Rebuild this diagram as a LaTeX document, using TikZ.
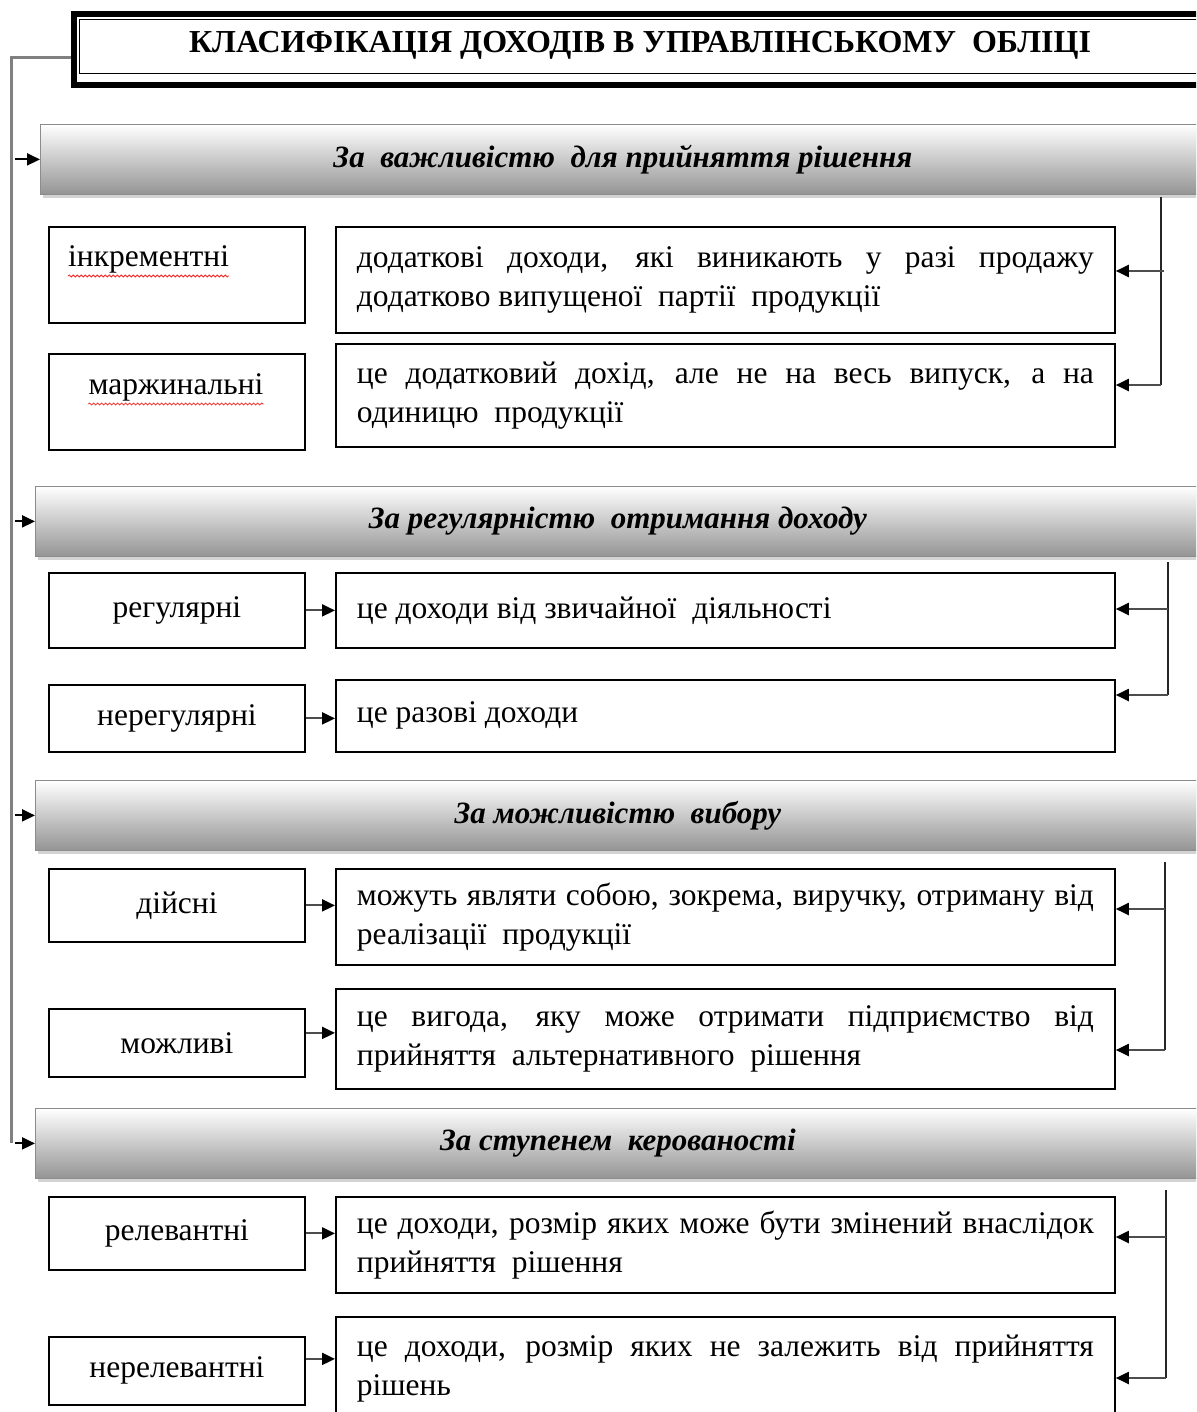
\documentclass[tikz,border=0pt]{standalone}
\usepackage{fontspec}
\setmainfont{Liberation Serif}
\usetikzlibrary{arrows.meta,shadows,decorations.pathmorphing,calc}
\newcommand{\bodyf}{\fontsize{31.5}{38.8}\selectfont}
\newcommand{\fl}[1]{{\spaceskip=0pt\xspaceskip=0pt\makebox[737pt][s]{#1}}}
\begin{document}
\begin{tikzpicture}[x=1pt,y=-1pt,
  lbox/.style={draw=black, line width=1.8pt, minimum width=256pt, inner sep=0pt, font=\bodyf},
  rbox/.style={draw=black, line width=1.8pt, text width=737pt, inner xsep=21pt, inner ysep=0pt, align=justify, font=\bodyf, anchor=north west},
  hbar/.style={draw=black!45, line width=0.8pt, top color=white, bottom color=black!42, minimum width=1165pt, minimum height=70pt, anchor=north west, font=\fontsize{31}{36}\selectfont\bfseries\itshape, drop shadow={shadow xshift=3pt, shadow yshift=-4pt, opacity=0.35, fill=black!50}},
  gline/.style={draw=black!50, line width=3pt},
  arr/.style={draw=black!70, line width=2pt, -{Triangle[length=13pt,width=12pt,color=black]}},
  cline/.style={draw=black!85, line width=1.6pt},
  squig/.style={draw=red!85, line width=0.8pt, decorate, decoration={snake, amplitude=1pt, segment length=4pt}}
]
\useasboundingbox (0,0) rectangle (1196,1412);
\clip (0,0) rectangle (1196,1412);

% title
\node[draw=black, line width=6pt, minimum width=1150pt, minimum height=71pt, anchor=north west, inner sep=0pt] (t) at (71,11) {};
\node[draw=black, line width=1pt, minimum width=1140pt, minimum height=54pt, anchor=north west, inner sep=0pt] (ti) at (79,19) {};
\node[font=\fontsize{32}{36}\selectfont\bfseries, inner sep=0pt] (tt) at (640,45) {КЛАСИФІКАЦІЯ ДОХОДІВ В УПРАВЛІНСЬКОМУ\ \ ОБЛІЦІ};

% headers
\node[hbar] (h1) at (40,124) {За\ \ важливістю\ \ для прийняття рішення};
\node[hbar] (h2) at (35,486) {За регулярністю\ \ отримання доходу};
\node[hbar] (h3) at (35,780) {За можливістю\ \ вибору};
\node[hbar] (h4) at (35,1108) {За ступенем\ \ керованості};

% left boxes
\node[lbox, minimum height=96pt, anchor=north west] (a1) at (48,226) {};
\node[font=\bodyf, inner sep=0pt, anchor=west] (a1t) at (68,259) {інкрементні};
\node[lbox, minimum height=96pt, anchor=north west] (a2) at (48,353) {};
\node[font=\bodyf, inner sep=0pt] (a2t) at (176,387) {маржинальні};
\node[lbox, minimum height=75pt, anchor=north west] (a3) at (48,572) {регулярні};
\node[lbox, minimum height=67pt, anchor=north west] (a4) at (48,684) {нерегулярні};
\node[lbox, minimum height=73pt, anchor=north west] (a5) at (48,868) {дійсні};
\node[lbox, minimum height=68pt, anchor=north west] (a6) at (48,1008) {можливі};
\node[lbox, minimum height=73pt, anchor=north west] (a7) at (48,1196) {релевантні};
\node[lbox, minimum height=68pt, anchor=north west] (a8) at (48,1336) {нерелевантні};

\draw[squig] ([yshift=-3pt]a1t.south west) -- ([yshift=-3pt]a1t.south east);
\draw[squig] ([yshift=-3pt]a2t.south west) -- ([yshift=-3pt]a2t.south east);

% right boxes
\node[rbox, minimum height=106pt] (b1) at (335,226) {\fl{додаткові доходи, які виникають у разі продажу}\\додатково випущеної\ \ партії\ \ продукції};
\node[rbox, minimum height=103pt] (b2) at (335,343) {\fl{це додатковий дохід, але не на весь випуск, а на}\\одиницю\ \ продукції};
\node[rbox, minimum height=75pt] (b3) at (335,572) {це доходи від звичайної\ \ діяльності};
\node[rbox, minimum height=72pt] (b4) at (335,679) {це разові доходи};
\node[rbox, minimum height=96pt] (b5) at (335,868) {\fl{можуть являти собою, зокрема, виручку, отриману від}\\реалізації\ \ продукції};
\node[rbox, minimum height=100pt] (b6) at (335,988) {\fl{це вигода, яку може отримати підприємство від}\\прийняття\ \ альтернативного\ \ рішення};
\node[rbox, minimum height=96pt] (b7) at (335,1196) {\fl{це доходи, розмір яких може бути змінений внаслідок}\\прийняття\ \ рішення};
\node[rbox, minimum height=104pt] (b8) at (335,1316) {\fl{це доходи, розмір яких не залежить від прийняття}\\рішень};

% left spine
\coordinate (tl) at (71,58);
\coordinate (sp) at (11,58);
\draw[gline] (tl) -- (sp) -- (sp |- h4.west);
\foreach \h in {h1,h2,h3,h4} \draw[arr, draw=black] ([xshift=4pt]sp |- \h.west) -- (\h.west);

% left-to-right arrows
\draw[arr] (a3.east) -- (a3.east -| b3.west);
\draw[arr] (a4.east) -- (a4.east -| b4.west);
\draw[arr] (a5.east) -- (a5.east -| b5.west);
\draw[arr] ([yshift=10pt]a6.east) -- ([yshift=10pt]a6.east -| b6.west);
\draw[arr] (a7.east) -- (a7.east -| b7.west);
\draw[arr] ([yshift=12pt]a8.east) -- ([yshift=12pt]a8.east -| b8.west);

% right connectors
\coordinate (r1) at (1161,197); \coordinate (r1a) at (1164,271); \coordinate (r1b) at (1161,385);
\draw[cline] (r1) -- (r1b);
\draw[arr] (r1a) -- (r1a -| b1.east);
\draw[arr] (r1b) -- (r1b -| b2.east);

\coordinate (r2) at (1168,562); \coordinate (r2a) at (1168,609); \coordinate (r2b) at (1168,695);
\draw[cline] (r2) -- (r2b);
\draw[arr] (r2a) -- (r2a -| b3.east);
\draw[arr] (r2b) -- (r2b -| b4.east);

\coordinate (r3) at (1165,862); \coordinate (r3a) at (1165,909); \coordinate (r3b) at (1165,1050);
\draw[cline] (r3) -- (r3b);
\draw[arr] (r3a) -- (r3a -| b5.east);
\draw[arr] (r3b) -- (r3b -| b6.east);

\coordinate (r4) at (1166,1190); \coordinate (r4a) at (1166,1237); \coordinate (r4b) at (1166,1378);
\draw[cline] (r4) -- (r4b);
\draw[arr] (r4a) -- (r4a -| b7.east);
\draw[arr] (r4b) -- (r4b -| b8.east);
\end{tikzpicture}
\end{document}
